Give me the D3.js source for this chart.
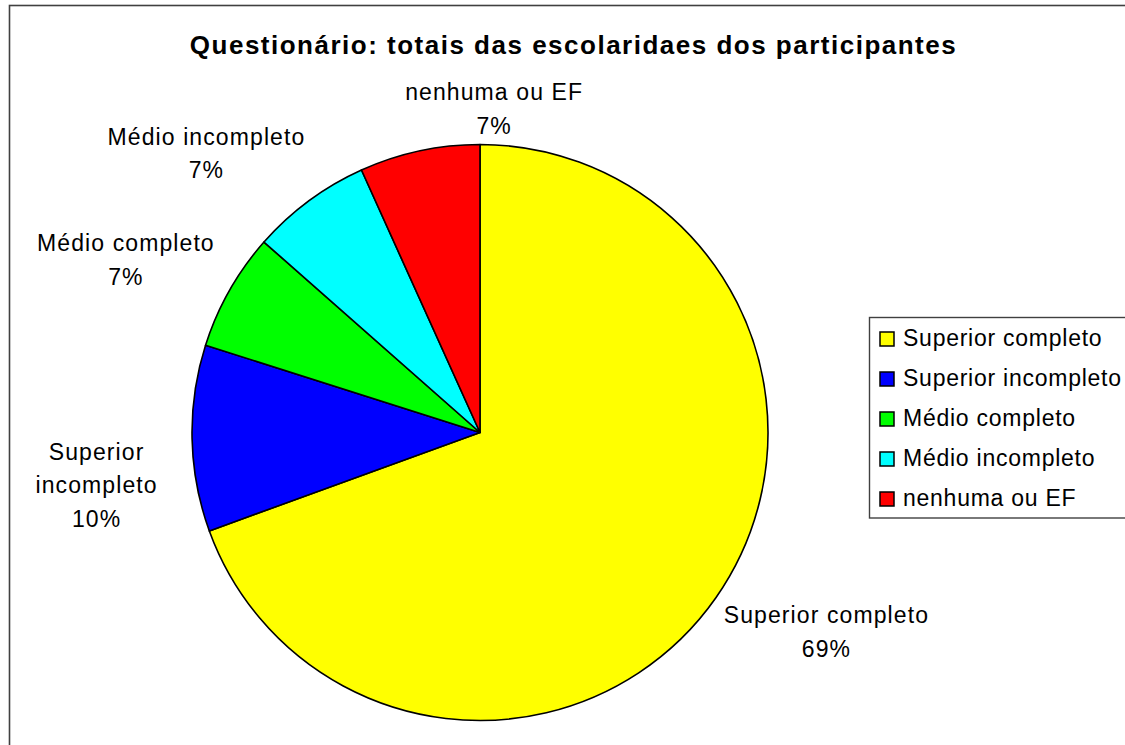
<!DOCTYPE html>
<meta charset="utf-8">
<style>
body { margin: 0; background: #fff; }
svg { font-family: Arial, "Liberation Sans", sans-serif; }
.slice { stroke: #000; stroke-width: 1.6; stroke-linejoin: round; }
.label { font-size: 23px; letter-spacing: 1.1px; fill: #000; }
.legend text { font-size: 23px; letter-spacing: 0.75px; fill: #000; }
</style>
<svg width="1125" height="745"></svg>
<script src="https://cdn.jsdelivr.net/npm/d3@7"></script>
<script>

// shares (%)
var categories = ["Superior completo", "Superior incompleto", "Médio completo", "Médio incompleto", "nenhuma ou EF"];
var shares = [69.45, 10.45, 6.6, 6.75, 6.75];
var colors = ["#ffff00", "#0000ff", "#00ff00", "#00ffff", "#ff0000"];
var title = "Questionário: totais das escolaridaes dos participantes";

// where the data labels sit: angle (deg, clockwise from top) and distance from pie centre
var labelLayout = [
  { angle: 119.9, dist: 399.6 },
  { angle: 262.2, dist: 387 },
  { angle: 296.0, dist: 394 },
  { angle: 315.6, dist: 391 },
  { angle: 2.5, dist: 324 }
];

var svg = d3.select("svg"),
    width = +svg.attr("width"),
    height = +svg.attr("height");

var cx = 480, cy = 432.5, radius = 288;

// outer chart frame (runs off the right and bottom edge like the original)
svg.append("rect")
  .attr("x", 9.5).attr("y", 5.5)
  .attr("width", 1135).attr("height", 760)
  .attr("fill", "#fff")
  .attr("stroke", "#404040")
  .attr("stroke-width", 1.6);

svg.append("text")
  .attr("x", 573.5).attr("y", 54.3)
  .attr("text-anchor", "middle")
  .attr("font-size", "26px")
  .attr("font-weight", "bold")
  .attr("letter-spacing", "1.5px")
  .text(title);

var total = d3.sum(shares);
var data = categories.map(function(c, i) { return { name: c, value: shares[i], color: colors[i] }; });

var pie = d3.pie().sort(null).value(function(d) { return d.value; });
var arc = d3.arc().innerRadius(0).outerRadius(radius);

var g = svg.append("g").attr("transform", "translate(" + cx + "," + cy + ")");

var arcs = pie(data);

g.selectAll("path")
  .data(arcs)
  .enter().append("path")
  .attr("class", "slice")
  .attr("fill", function(d) { return d.data.color; })
  .attr("d", arc);

// labels
var lineH = 33.5;
arcs.forEach(function(d, i) {
  var pct = Math.round(d.data.value / total * 100) + "%";
  var lines;
  if (d.data.name == "Superior incompleto") lines = ["Superior", "incompleto", pct];
  else lines = [d.data.name, pct];
  var p = d3.pointRadial(labelLayout[i].angle * Math.PI / 180, labelLayout[i].dist);
  // first baseline so that the block's visual centre is at p
  var y0 = p[1] - (lines.length - 1) * lineH / 2 + 8.3;
  var t = g.append("text")
    .attr("class", "label")
    .attr("text-anchor", "middle");
  lines.forEach(function(s, j) {
    t.append("tspan")
      .attr("x", p[0])
      .attr("y", y0 + j * lineH)
      .text(s);
  });
});

// legend
var legend = svg.append("g").attr("class", "legend");

legend.append("rect")
  .attr("x", 869.5).attr("y", 317.5)
  .attr("width", 270).attr("height", 200.5)
  .attr("fill", "#fff")
  .attr("stroke", "#404040")
  .attr("stroke-width", 1.4);

var rowY = d3.scalePoint()
  .domain(categories)
  .range([346, 506]);

var items = legend.selectAll("g.item")
  .data(data)
  .enter().append("g").attr("class", "item");

items.append("rect")
  .attr("x", 880)
  .attr("y", function(d) { return rowY(d.name) - 14; })
  .attr("width", 14)
  .attr("height", 14)
  .attr("fill", function(d) { return d.color; })
  .attr("stroke", "#000")
  .attr("stroke-width", 1.5);

items.append("text")
  .attr("x", 903)
  .attr("y", function(d) { return rowY(d.name); })
  .text(function(d) { return d.name; });

</script>
